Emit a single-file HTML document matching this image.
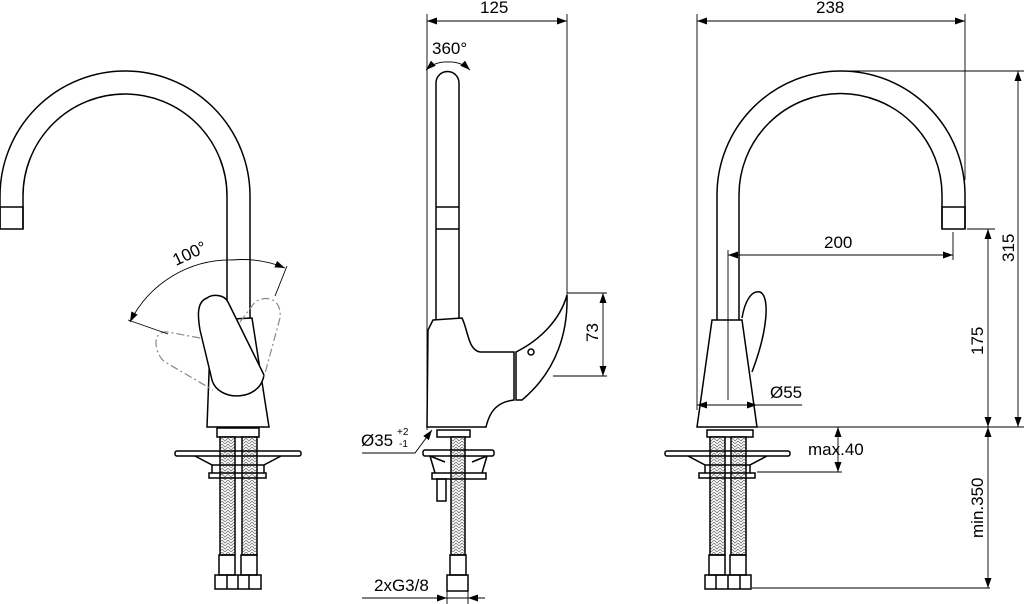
<!DOCTYPE html>
<html><head><meta charset="utf-8"><style>
html,body{margin:0;padding:0;background:#fff;}
svg{display:block;}
text{font-family:"Liberation Sans",sans-serif;font-size:17px;fill:#000;}
</style></head><body>
<svg width="1024" height="604" viewBox="0 0 1024 604" xmlns="http://www.w3.org/2000/svg">
<defs>
<marker id="a" viewBox="0 0 10 10" refX="10" refY="5" markerWidth="14" markerHeight="10" markerUnits="userSpaceOnUse" orient="auto-start-reverse"><path d="M0,1.5 L10,5 L0,8.5Z" fill="#000"/></marker>
<pattern id="br" width="6" height="6" patternUnits="userSpaceOnUse"><rect width="6" height="6" fill="#fff"/><path d="M0,0 L3,3 L6,0 M0,3 L3,6 L6,3" stroke="#777" stroke-width="0.8" fill="none"/></pattern>
</defs>
<g fill="none" stroke="#000" stroke-width="1.5">
<!-- LEFT VIEW -->
<path d="M0,229 V196 A125,125 0 0 1 250,196 V318"/>
<path d="M23,229 V196 A102,102 0 0 1 227,196 V318"/>
<rect x="0" y="207" width="23" height="22"/>
<path d="M211,320 L252,318 L269,427 L207,427 Z" fill="#fff"/>
<path d="M207,298 C196,302 198,318 200,330 L212,380 C218,402 260,402 264,375 L228,302 C224,294 212,294 207,298 Z" fill="#fff"/>
<g stroke="#888" stroke-width="1.2" stroke-dasharray="8,3,2,3">
<path d="M200,338 L168,332 C150,330 155,355 165,362 L213,390"/>
<path d="M240,322 L255,302 C268,294 282,300 280,318 L264,377"/>
</g>
<rect x="217" y="428" width="42" height="9"/>
<rect x="220" y="437" width="15" height="118" fill="url(#br)"/>
<rect x="242" y="437" width="15" height="118" fill="url(#br)"/>
<rect x="175" y="451" width="126" height="5" rx="2"/>
<path d="M195,456 L212,465 L212,473 M281,456 L264,465 L264,473 M212,465 H264"/>
<rect x="209" y="473" width="57" height="5"/>
<rect x="219" y="555" width="16" height="20"/><rect x="241" y="555" width="16" height="20"/>
<rect x="215" y="575" width="46" height="14"/><path d="M227,575 V589 M238,575 V589 M249,575 V589"/>
<!-- MIDDLE VIEW -->
<path d="M436,320 V83 A11.5,11.5 0 0 1 459,83 V320"/>
<path d="M436,207 H459 M436,229 H459"/>
<path d="M433,320 L462,318 C468,330 468,350 480,352 L514,352 L514,400 C498,402 490,410 486,427 L427,427 L428,330 Z" fill="#fff"/>
<path d="M516,352 C540,340 560,320 567,295 C568,330 558,370 522,400 L516,400 Z" fill="#fff"/>
<circle cx="531" cy="352" r="3"/>
<rect x="437" y="430" width="33" height="7"/>
<rect x="451" y="437" width="14" height="118" fill="url(#br)"/>
<rect x="423" y="450" width="71" height="6" rx="2"/>
<path d="M430,456 L435,473 M487,456 L482,473 M430,456 L445,462 M487,456 L472,462"/>
<rect x="432" y="473" width="54" height="6"/>
<rect x="437" y="479" width="9" height="22"/>
<rect x="450" y="555" width="16" height="20"/>
<rect x="447" y="575" width="21" height="16"/>
<!-- RIGHT VIEW -->
<path d="M717,320 V195 A124,124 0 0 1 965,195 V229"/>
<path d="M739,320 V195 A101.5,101.5 0 0 1 942,195 V229"/>
<rect x="942" y="207" width="23" height="22"/>
<path d="M742,318 C745,300 752,290 760,292 C770,296 768,330 752,372" fill="#fff"/>
<path d="M712,320 L742,320 L757,427 L697,427 Z" fill="#fff"/>
<rect x="707" y="430" width="46" height="7"/>
<rect x="710" y="437" width="15" height="118" fill="url(#br)"/>
<rect x="731" y="437" width="15" height="118" fill="url(#br)"/>
<rect x="665" y="451" width="125" height="5" rx="2"/>
<path d="M688,456 L705,465 L705,473 M767,456 L750,465 L750,473 M705,465 H750"/>
<rect x="699" y="473" width="56" height="5"/>
<rect x="709" y="555" width="16" height="20"/><rect x="730" y="555" width="16" height="20"/>
<rect x="705" y="575" width="46" height="14"/><path d="M716,575 V589 M728,575 V589 M740,575 V589"/>
</g>
<!-- DIMENSIONS -->
<g fill="none" stroke="#000" stroke-width="0.9">
<path d="M232,260 A112,112 0 0 0 130,322" marker-end="url(#a)"/>
<path d="M232,260 A112,112 0 0 1 285,268" marker-end="url(#a)"/>
<path d="M128,320 L168,334 M287,266 L275,296"/>
<path d="M427,14 V430 M567,14 V295"/>
<path d="M427,21 H567" marker-start="url(#a)" marker-end="url(#a)"/>
<path d="M448,62 A30,30 0 0 0 426,70" marker-end="url(#a)"/>
<path d="M448,62 A30,30 0 0 1 470,70" marker-end="url(#a)"/>
<path d="M567,293 H607 M553,376 H607"/>
<path d="M603,293 V376" marker-start="url(#a)" marker-end="url(#a)"/>
<path d="M362,453 H415 L432,430" marker-end="url(#a)"/>
<path d="M362,598 H480 M447,588 V604 M468,588 V604"/>
<path d="M430,598 H447" marker-end="url(#a)"/><path d="M485,598 H468" marker-end="url(#a)"/>
<path d="M697,14 V410 M965,14 V180"/>
<path d="M697,21 H965" marker-start="url(#a)" marker-end="url(#a)"/>
<path d="M841,71 H1024"/>
<path d="M1018,71 V427" marker-start="url(#a)" marker-end="url(#a)"/>
<path d="M728,250 V400 M953,232 V260"/>
<path d="M728,255 H953" marker-start="url(#a)" marker-end="url(#a)"/>
<path d="M967,229 H995"/>
<path d="M988,229 V427" marker-start="url(#a)" marker-end="url(#a)"/>
<path d="M697,405 H757" marker-start="url(#a)" marker-end="url(#a)"/>
<path d="M757,405 H802"/>
<path d="M757,427 H1024"/>
<path d="M838,427 V472" marker-start="url(#a)" marker-end="url(#a)"/>
<path d="M757,472 H842"/>
<path d="M988,427 V588" marker-start="url(#a)" marker-end="url(#a)"/>
<path d="M752,588 H990"/>
</g>
<text x="176" y="266" transform="rotate(-25 176 266)">100°</text>
<text x="480" y="13">125</text>
<text x="432" y="54">360°</text>
<text x="598" y="342" transform="rotate(-90 598 342)">73</text>
<text x="361" y="446">Ø35</text>
<text x="397" y="435" style="font-size:10px">+2</text>
<text x="399" y="447" style="font-size:10px">-1</text>
<text x="374" y="591">2xG3/8</text>
<text x="816" y="13">238</text>
<text x="824" y="248">200</text>
<text x="1014" y="262" transform="rotate(-90 1014 262)">315</text>
<text x="983" y="355" transform="rotate(-90 983 355)">175</text>
<text x="770" y="398">Ø55</text>
<text x="808" y="455">max.40</text>
<text x="983" y="538" transform="rotate(-90 983 538)">min.350</text>
</svg>
</body></html>
